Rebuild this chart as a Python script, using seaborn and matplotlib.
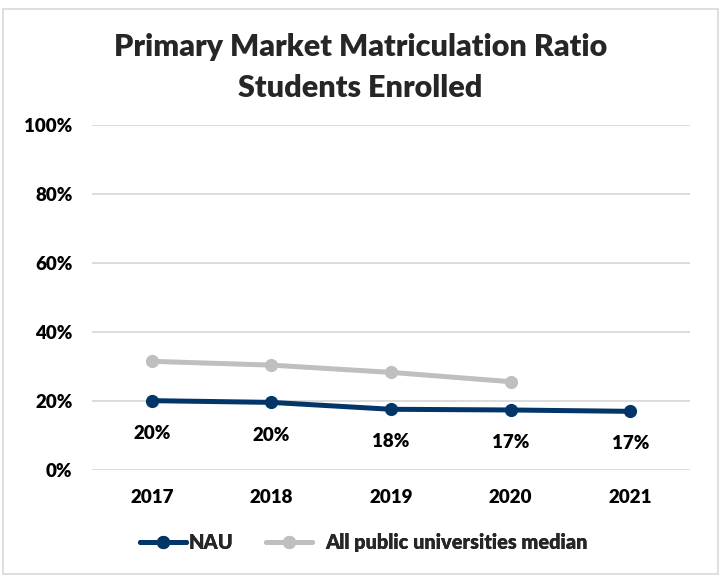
import matplotlib
matplotlib.use("Agg")
import matplotlib.pyplot as plt
from matplotlib.lines import Line2D
from matplotlib.patches import Rectangle
import numpy as np
import pandas as pd
import seaborn as sns

years = ["2017", "2018", "2019", "2020", "2021"]
nau = [20.1, 19.6, 17.6, 17.4, 17.0]
median_all = [31.5, 30.4, 28.3, 25.6, np.nan]
series_names = ["NAU", "All public universities median"]
y_ticks = [0, 20, 40, 60, 80, 100]

navy = "#033668"
grey = "#bfbfbf"
colors = {series_names[0]: navy, series_names[1]: grey}

sns.set_theme(style="white")
plt.rcParams["font.family"] = ["Lato", "DejaVu Sans"]
BOLD = "heavy"

df = pd.DataFrame({
    "year": years * 2,
    "value": nau + median_all,
    "series": [series_names[0]] * len(years) + [series_names[1]] * len(years),
})

fig = plt.figure(figsize=(7.21, 5.75), dpi=100)
ax = fig.add_axes([0.1276, 0.1826, 0.8294, 0.600])

sns.lineplot(data=df.dropna(), x="year", y="value", hue="series",
             palette=colors, hue_order=series_names[::-1],
             marker="o", markersize=9.5, markeredgewidth=0, linewidth=3.6,
             sort=False, legend=False, ax=ax)

# data labels under the NAU points
for i, v in enumerate(nau):
    ax.annotate(f"{v:.0f}%", (i, v), xytext=(0, -23.5), textcoords="offset points",
                ha="center", va="center", fontsize=13.5, fontweight=BOLD, color="black")

ax.set_xlim(-0.5, len(years) - 0.5)
ax.set_ylim(0, 100)
ax.set_yticks(y_ticks)
ax.set_yticklabels([f"{t}%" for t in y_ticks])
ax.yaxis.grid(True, color="#d9d9d9", linewidth=1.3)
ax.set_axisbelow(True)
ax.set_xlabel("")
ax.set_ylabel("")
ax.tick_params(axis="both", length=0, labelsize=13.5, colors="black")
ax.tick_params(axis="x", pad=14)
ax.tick_params(axis="y", pad=14)
for lbl in ax.get_xticklabels() + ax.get_yticklabels():
    lbl.set_fontweight(BOLD)
for s in ax.spines.values():
    s.set_visible(False)

fig.text(0.5, 0.918, "Primary Market Matriculation Ratio", ha="center", va="center",
         fontsize=22, fontweight=BOLD)
fig.text(0.5, 0.847, "Students Enrolled", ha="center", va="center",
         fontsize=22, fontweight=BOLD)

# legend entries, each with its own spacing between key and text
legend_font = {"weight": BOLD, "size": 14.4}
for name, x0, textpad in [(series_names[0], 0.194, 0.15), (series_names[1], 0.369, 0.65)]:
    h = Line2D([], [], color=colors[name], marker="o", markersize=9.5,
               markeredgewidth=0, linewidth=3.6)
    leg = fig.legend([h], [name], loc="center left", bbox_to_anchor=(x0, 0.0557),
                     frameon=False, handlelength=2.3, handletextpad=textpad,
                     borderpad=0, borderaxespad=0, prop=legend_font)
    fig.add_artist(leg)

fig.patches.append(Rectangle((0.004, 0.002), 0.992, 0.983, transform=fig.transFigure,
                             fill=False, edgecolor="#d9d9d9", linewidth=1.2))

fig.savefig("out.png", dpi=100, facecolor="white")
